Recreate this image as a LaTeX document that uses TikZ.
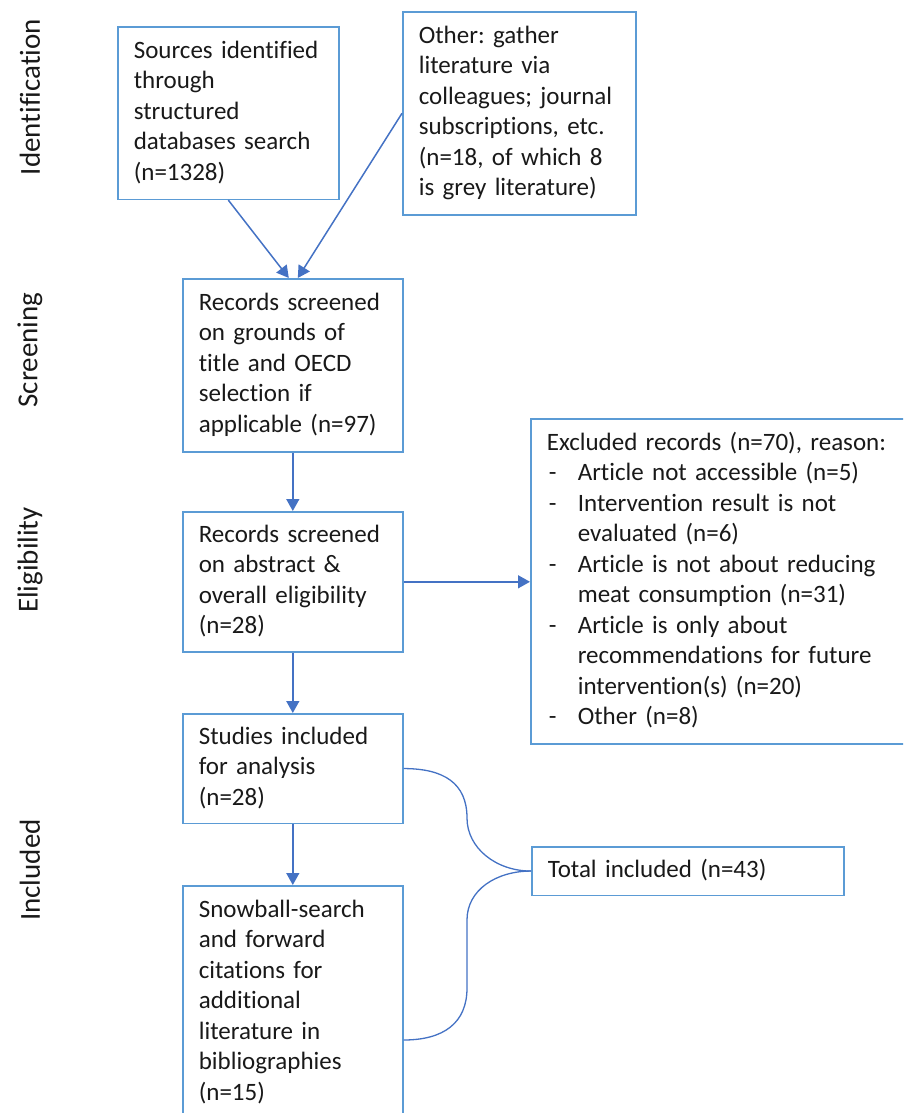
\documentclass[tikz,border=0pt]{standalone}
\usepackage{fontspec}
\setmainfont{Carlito}[Ligatures=NoCommon]
\usetikzlibrary{arrows.meta}
\frenchspacing

\definecolor{boxblue}{RGB}{91,155,213}
\definecolor{linkblue}{RGB}{68,114,196}
\definecolor{inktext}{RGB}{25,25,25}

% list entries of the exclusion box: dash with hanging indent
\newcommand{\xitem}[1]{\makebox[31pt][l]{\hspace{2pt}-}#1}
\newcommand{\xcont}[1]{\hspace*{31pt}#1}

\tikzset{
  box/.style={draw=boxblue, line width=1.6pt, anchor=north west, align=left,
    inner xsep=16pt, inner ysep=10pt, text=inktext,
    font=\fontsize{25}{30.5}\selectfont,
    execute at begin node=\strut, execute at end node=\strut},
  link/.style={draw=linkblue, line width=1.5pt, -{Triangle[length=12pt,width=13pt]}},
  brace/.style={draw=linkblue, line width=1.3pt},
  phase/.style={rotate=90, text=inktext, font=\fontsize{29}{30}\selectfont}
}

\begin{document}
\begin{tikzpicture}[x=1pt,y=-1pt]
\clip (0,0) rectangle (903,1113);
\useasboundingbox (0,0) rectangle (903,1113);

% phase labels
\node[phase] (idn) at (30,97) {Identification};
\node[phase] (scr) at (30,350) {Screening};
\node[phase] (eli) at (30,560) {Eligibility};
\node[phase] (inc) at (30,870) {Included};

% boxes
\node[box, text width=189pt] (src) at (117,26)
  {Sources identified\\through\\structured\\databases search\\(n=1328)};
\node[box, text width=201pt] (oth) at (402,11)
  {Other: gather\\literature via\\colleagues; journal\\subscriptions, etc.\\(n=18, of which 8\\is grey literature)};
\node[box, text width=188pt, minimum height=173pt] (rec1) at (182,278)
  {Records screened\\on grounds of\\title and OECD\\selection if\\applicable (n=97)};
\node[box, text width=188pt, inner ysep=9pt] (rec2) at (182,511)
  {Records screened\\on abstract \&\\overall eligibility\\(n=28)};
\node[box, text width=188pt, inner ysep=9pt] (stu) at (182,713)
  {Studies included\\for analysis\\(n=28)};
\node[box, text width=188pt] (snow) at (182,885)
  {Snowball-search\\and forward\\citations for\\additional\\literature in\\bibliographies\\(n=15)};
\node[box, text width=354pt] (exc) at (530,418)
  {Excluded records (n=70), reason:\\
   \xitem{Article not accessible (n=5)}\\
   \xitem{Intervention result is not}\\
   \xcont{evaluated (n=6)}\\
   \xitem{Article is not about reducing}\\
   \xcont{meat consumption (n=31)}\\
   \xitem{Article is only about}\\
   \xcont{recommendations for future}\\
   \xcont{intervention(s) (n=20)}\\
   \xitem{Other (n=8)}};
\node[box, text width=280pt, inner ysep=9pt] (tot) at (531,846)
  {Total included (n=43)};

% flow arrows
\draw[link] (src.south) -- ([xshift=-4pt]rec1.north);
\draw[link] (oth.west) -- ([xshift=5pt]rec1.north);
\draw[link] (rec1.south) -- (rec2.north);
\draw[link] (rec2.east) -- (rec2.east -| exc.west);
\draw[link] (rec2.south) -- (stu.north);
\draw[link] (stu.south) -- (snow.north);

% brace joining the two included sets
\coordinate (snowtap) at ([yshift=-155pt]snow.north east);
\coordinate (bupper) at (467,818);
\coordinate (blower) at (467,920);
\coordinate (bend) at (467,988);
\draw[brace] (stu.east) .. controls +(40,0) and +(0,-35) .. (bupper)
  .. controls +(0,30) and +(-35,0) .. (tot.west);
\draw[brace] (tot.west) .. controls +(-35,0) and +(0,-30) .. (blower)
  -- (bend) .. controls +(0,35) and +(40,0) .. (snowtap);
\end{tikzpicture}
\end{document}
